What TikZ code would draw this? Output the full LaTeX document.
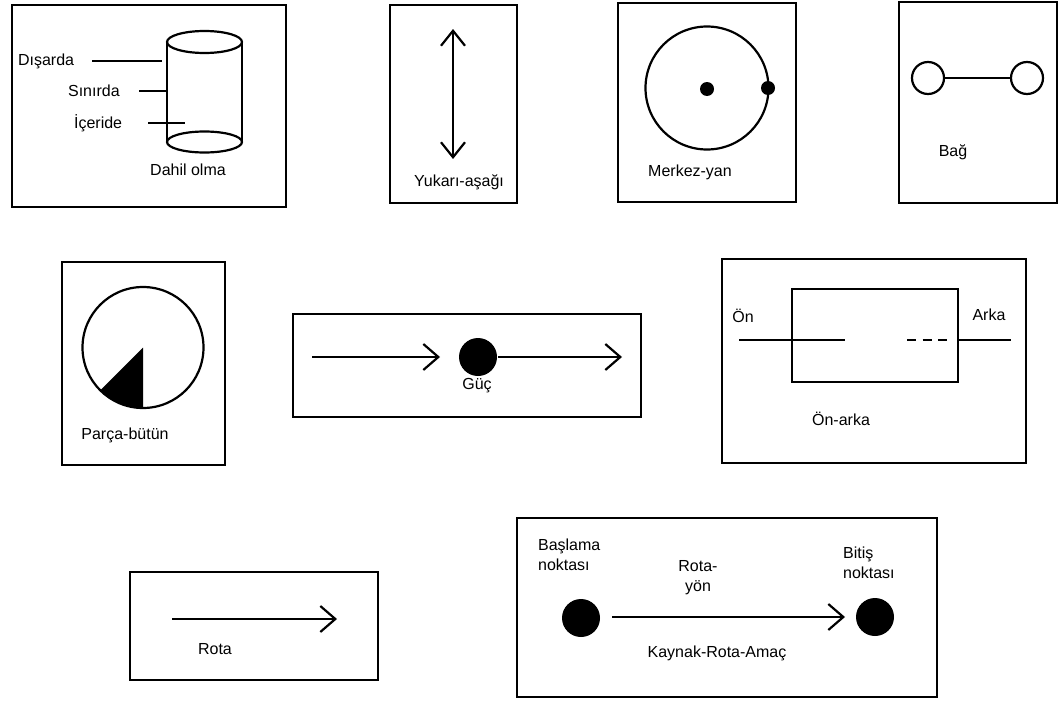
\documentclass[tikz,border=0pt]{standalone}
\usepackage{fontspec}
\setmainfont{Liberation Sans}
\usetikzlibrary{arrows.meta}
\begin{document}
\begin{tikzpicture}[x=1pt,y=-1pt, line width=2.2pt,
 box/.style={draw, line width=2.5pt, inner sep=0pt, outer sep=0pt, anchor=north west},
 lbl/.style={font=\fontsize{16}{20}\selectfont, inner sep=0pt},
 dot/.style={circle, fill, draw=none, inner sep=0pt, minimum size=#1},
 ring/.style={circle, draw, inner sep=0pt, minimum size=#1},
 arr/.style={-{Straight Barb[length=15pt,width=26pt]}},
 darr/.style={{Straight Barb[length=15pt,width=24pt]}-{Straight Barb[length=15pt,width=24pt]}},
]
\useasboundingbox (0,0) rectangle (1061,704);
\fill[white] (0,0) rectangle (1061,704);

% ---- Box 1: Dahil olma
\node[box, minimum width=274pt, minimum height=202pt] (b1) at (12,5) {};
\draw (167,42) -- (167,142) (242,42) -- (242,142);
\draw (204.5,42) ellipse [x radius=37.5, y radius=11];
\draw (204.5,142) ellipse [x radius=37.5, y radius=10.5];
\node[lbl, anchor=west] (disarda) at (17,61) {Dışarda};
\node[lbl, anchor=west] (sinirda) at (67,91) {Sınırda};
\node[lbl, anchor=west] (iceride) at (73,123) {İçeride};
\coordinate (d1) at (92,61);  \coordinate (d2) at (162,61);
\coordinate (s1) at (139,91); \coordinate (s2) at (167,91);
\coordinate (i1) at (148,123);\coordinate (i2) at (185,123);
\draw (d1) -- (d2);
\draw (s1) -- (s2);
\draw (i1) -- (i2);
\node[lbl] (dahil) at (188,170) {Dahil olma};

% ---- Box 2: Yukarı-aşağı
\node[box, minimum width=127pt, minimum height=198pt] (b2) at (390,5) {};
\coordinate (ua) at (453,29); \coordinate (ub) at (453,159);
\draw[darr] (ua) -- (ub);
\node[lbl] (yukari) at (459,182) {Yukarı-aşağı};

% ---- Box 3: Merkez-yan
\node[box, minimum width=178pt, minimum height=199pt] (b3) at (618,3) {};
\node[ring=123pt] (mc) at (707,88) {};
\node[dot=14pt] (mdot) at (707,89) {};
\node[dot=14pt] (mside) at (768,88) {};
\node[lbl] (merkez) at (690,172) {Merkez-yan};

% ---- Box 4: Bağ
\node[box, minimum width=158pt, minimum height=201pt] (b4) at (899,2) {};
\node[ring=32pt] (bl) at (928,78) {};
\node[ring=32pt] (br) at (1027,78) {};
\draw (bl) -- (br);
\node[lbl] (bag) at (953,152) {Bağ};

% ---- Box 5: Parça-bütün
\node[box, minimum width=163pt, minimum height=203pt] (b5) at (62,262) {};
\coordinate (pc) at (143,347.5);
\fill (pc) -- ++(90:60.5) arc[start angle=90, end angle=135, radius=60.5] -- cycle;
\node[ring=121pt] (pcirc) at (pc) {};
\node[lbl] (parca) at (125,435) {Parça-bütün};

% ---- Box 6: Güç
\node[box, minimum width=348pt, minimum height=103pt] (b6) at (293,314) {};
\coordinate (g1) at (312,357); \coordinate (g2) at (440,357);
\node[dot=38pt] (gdot) at (478,357) {};
\coordinate (g3) at (622,357);
\draw[arr] (g1) -- (g2);
\draw[arr] (gdot) -- (g3);
\node[lbl] (guc) at (477,386) {Güç};

% ---- Box 7: Ön-arka
\node[box, minimum width=304pt, minimum height=204pt] (b7) at (722,259) {};
\node[box, minimum width=166pt, minimum height=93pt] (inner) at (792,289) {};
\coordinate (o1) at (739,340); \coordinate (o2) at (845,340);
\coordinate (o3) at (907,340); \coordinate (o4) at (947,340);
\coordinate (o5) at (1011,340);
\draw (o1) -- (o2);
\draw[dash pattern=on 9pt off 6.5pt] (o3) -- (o4);
\draw (inner.east |- o5) -- (o5);
\node[lbl] (on) at (743,316) {Ön};
\node[lbl] (arka) at (989,315) {Arka};
\node[lbl] (onarka) at (841,419) {Ön-arka};

% ---- Box 8: Rota
\node[box, minimum width=248pt, minimum height=108pt] (b8) at (130,572) {};
\coordinate (r1) at (172,619); \coordinate (r2) at (337,619);
\draw[arr] (r1) -- (r2);
\node[lbl] (rota) at (215,649) {Rota};

% ---- Box 9: Kaynak-Rota-Amaç
\node[box, minimum width=420pt, minimum height=179pt] (b9) at (517,518) {};
\node[dot=38pt] (kstart) at (581,618) {};
\node[dot=38pt] (kend) at (875,617) {};
\coordinate (k1) at (612,617); \coordinate (k2) at (845,617);
\draw[arr] (k1) -- (k2);
\node[lbl, anchor=west, align=left] (basla) at (537,555) {Başlama\\noktası};
\node[lbl, align=center] (rotayon) at (698,578) {Rota-\\yön};
\node[lbl, anchor=west, align=left] (bitis) at (842,563) {Bitiş\\noktası};
\node[lbl] (kaynak) at (717,653) {Kaynak-Rota-Amaç};
\end{tikzpicture}
\end{document}
